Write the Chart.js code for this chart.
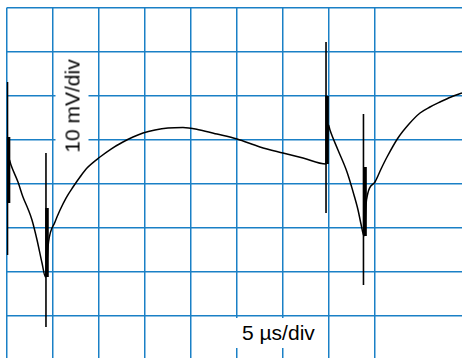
<!DOCTYPE html>
<html>
<head>
<meta charset="utf-8">
<script src="https://cdn.jsdelivr.net/npm/chart.js@4"></script>
<style>
html,body{margin:0;padding:0;background:#fff;overflow:hidden;}
#wrap{position:relative;width:462px;height:358px;}
canvas{position:absolute;left:0;top:0;}
.etiqueta{position:absolute;background:#fff;color:#000;font-family:"Liberation Sans",Arial,sans-serif;font-size:21px;white-space:nowrap;}
#etqX{left:236px;top:318px;width:84px;height:30px;line-height:30px;padding-left:6px;box-sizing:border-box;}
#etqY{left:71.5px;top:105.5px;width:97px;height:33px;line-height:33px;text-align:center;transform:translate(-50%,-50%) rotate(-90deg);}
</style>
</head>
<body>
<div id="wrap">
<canvas id="grafico" width="462" height="358"></canvas>
<div class="etiqueta" id="etqY"></div>
<div class="etiqueta" id="etqX"></div>
</div>

<script>
/* ============================= */
/* DATOS */
/* ============================= */

const textoX = "5 µs/div";
const textoY = "10 mV/div";

const pasoUs = 5;
const pasoMv = 10;

// traza principal (µs, mV)
const trazaUs = [0.33,0.49,1.25,1.79,2.34,2.77,3.32,3.86,4.24,4.57,5.27,5.82,6.47,7.23,7.99,8.75,10.16,11.36,12.66,13.75,14.84,16.14,17.55,19.18,21.03,22.88,25.05,27.55,30.05,32.23,34.73,35.00,35.16,36.03,37.01,37.77,38.21,38.53,38.86,39.13,40.05,40.71,41.36,42.55,43.75,44.95,46.03,47.12,48.32,49.51];
const trazaMv = [5.34,4.2,0.34,-3.07,-5.8,-8.3,-12.84,-18.07,-21.25,-13.3,-8.75,-6.02,-3.3,-0.8,1.48,3.52,6.02,7.84,9.43,10.57,11.48,12.16,12.61,12.73,12.16,11.25,10.11,8.3,6.93,5.8,4.43,13.3,12.16,7.61,2.61,-2.61,-6.02,-9.2,-11.93,-3.75,0.34,3.3,6.02,10.34,13.52,16.02,17.39,18.52,19.66,20.57];

// picos finos
const picoUs = [0.11,4.29,34.73,38.80];
const picoArribaMv = [23.07,6.93,32.16,15.8];
const picoAbajoMv = [-16.25,-32.61,-6.7,-23.07];

// tramos gruesos
const gruesoUs = [0.22,4.40,34.84,38.97];
const gruesoArribaMv = [10.57,-5.57,19.89,3.75];
const gruesoAbajoMv = [-4.43,-21.25,4.43,-11.93];


/* ============================= */
/* DATASETS */
/* ============================= */

let datasets = [];

datasets.push({
data: trazaUs.map((x,i)=>({x:x, y:trazaMv[i]})),
borderColor:"#000",
borderWidth:1.5,
cubicInterpolationMode:"monotone"
});

picoUs.forEach((x,i)=>{
datasets.push({
data:[{x:x, y:picoArribaMv[i]},{x:x, y:picoAbajoMv[i]}],
borderColor:"#000",
borderWidth:1.6
});
});

gruesoUs.forEach((x,i)=>{
datasets.push({
data:[{x:x, y:gruesoArribaMv[i]},{x:x, y:gruesoAbajoMv[i]}],
borderColor:"#000",
borderWidth:3.6
});
});

datasets.forEach(d=>{
d.showLine = true;
d.pointRadius = 0;
d.borderCapStyle = "butt";
});


/* ============================= */
/* EJES */
/* ============================= */

function soloMultiplos(paso){
return function(escala){
escala.ticks = escala.ticks.filter(t=>Math.abs(t.value/paso - Math.round(t.value/paso)) < 1e-6);
};
}

const rejilla = {
color:"#1a80c6",
lineWidth:1.5,
drawTicks:false
};

new Chart(document.getElementById("grafico"), {

type:"scatter",

data:{ datasets:datasets },

options:{

responsive:false,
animation:false,
devicePixelRatio:1,

layout:{ padding:{left:6.5, top:7.5, right:0, bottom:0} },

plugins:{
legend:{display:false},
tooltip:{enabled:false}
},

scales:{
x:{
type:"linear",
min:0,
max:49.51,
ticks:{display:false, stepSize:pasoUs},
grid:rejilla,
border:{display:false},
afterBuildTicks:soloMultiplos(pasoUs)
},
y:{
type:"linear",
min:-39.66,
max:40,
ticks:{display:false, stepSize:pasoMv},
grid:rejilla,
border:{display:false},
afterBuildTicks:soloMultiplos(pasoMv)
}
}

}

});

document.getElementById("etqX").innerText = textoX;
document.getElementById("etqY").innerText = textoY;
</script>
</body>
</html>
